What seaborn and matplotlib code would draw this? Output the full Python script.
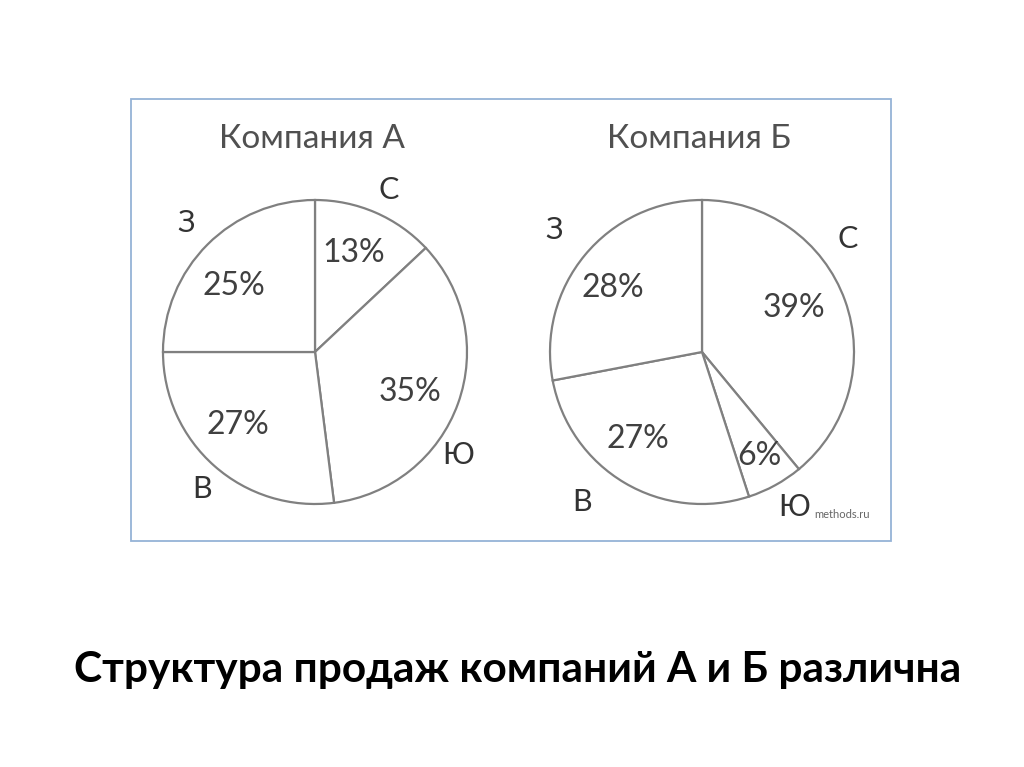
import numpy as np
import matplotlib
matplotlib.use("Agg")
import matplotlib.pyplot as plt
import seaborn as sns
from matplotlib.patches import Rectangle

sns.set_theme(style="white")
plt.rcParams["font.family"] = ["Lato", "DejaVu Sans"]

regions = ["С", "Ю", "В", "З"]
share_a = [13, 35, 27, 25]
share_b = [39, 6, 27, 28]
titles = ["Компания А", "Компания Б"]
main_title = "Структура продаж компаний А и Б различна"

# pixel layout (y measured from top)
W, H = 1024, 767
centers = [(315, 352), (702, 352)]
radius = 152
# per-label tweaks: (angle offset deg, distance in radii)
name_pos = [
    [(-1, 1.17), (-16, 1.16), (2, 1.17), (0, 1.20)],
    [(18, 1.21), (2, 1.19), (-8, 1.26), (0, 1.26)],
]
pct_pos = [
    [(2, 0.70), (-3, 0.68), (-5, 0.70), (6, 0.69)],
    [(6, 0.67), (0, 0.78), (-6, 0.71), (4, 0.72)],
]

fig = plt.figure(figsize=(10.24, 7.67), dpi=100)
ax = fig.add_axes([0, 0, 1, 1])

for k, (vals, (cx, cy)) in enumerate(zip([share_a, share_b], centers)):
    c = (cx, H - cy)
    ax.pie(vals, startangle=90, counterclock=False, center=c, radius=radius,
           colors=["white"] * 4, frame=True,
           wedgeprops=dict(edgecolor="#808080", linewidth=1.6))
    ends = 90 - np.cumsum(vals) * 3.6
    mids = ends + np.array(vals) * 1.8
    for i, (lab, v) in enumerate(zip(regions, vals)):
        a = np.deg2rad(mids[i] + name_pos[k][i][0])
        d = name_pos[k][i][1] * radius
        ax.text(c[0] + d * np.cos(a), c[1] + d * np.sin(a), lab,
                ha="center", va="center", fontsize=22, color="#333333")
        a = np.deg2rad(mids[i] + pct_pos[k][i][0])
        d = pct_pos[k][i][1] * radius
        ax.text(c[0] + d * np.cos(a), c[1] + d * np.sin(a), f"{v}%",
                ha="center", va="center", fontsize=23, color="#404040")
    ax.text(cx - 3, H - 139, titles[k], ha="center", va="center",
            fontsize=24, color="#505050")

ax.text(842, H - 514, "methods.ru", ha="center", va="center",
        fontsize=8, color="#666666")

ax.add_patch(Rectangle((131, H - 541), 760, 442, fill=False,
                       edgecolor="#95b3d7", linewidth=1.3))

ax.text(518, H - 670, main_title, ha="center", va="center",
        fontsize=30.5, fontweight="bold", color="black")

ax.set_xlim(0, W)
ax.set_ylim(0, H)
ax.set_aspect("equal")
ax.axis("off")

fig.savefig("out.png", dpi=100, facecolor="white")
